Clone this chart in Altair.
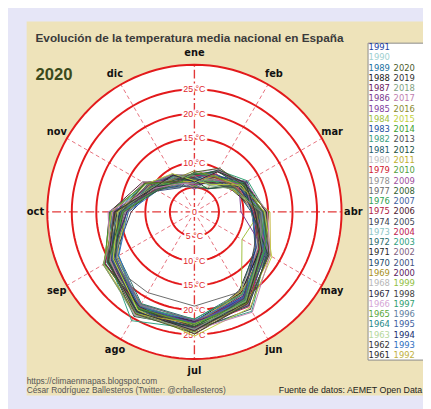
import altair as alt
import pandas as pd
import numpy as np

# ---------------- data ----------------
years = list(range(1961, 2021))
months = ["ene", "feb", "mar", "abr", "may", "jun", "jul", "ago", "sep", "oct", "nov", "dic"]

t_ene = [6.0, 6.8, 4.8, 5.9, 5.2, 7.9, 6.1, 6.4, 6.6, 6.9, 5.6, 6.2, 5.9, 7.0, 7.2, 5.4, 7.6, 6.3, 7.1, 5.8,
         5.3, 7.4, 5.9, 6.1, 4.6, 5.8, 5.5, 7.6, 6.7, 6.2, 6.0, 5.4, 6.0, 6.4, 7.4, 7.8, 7.5, 7.1, 6.3, 5.6,
         7.9, 7.3, 6.4, 7.5, 5.0, 5.6, 6.9, 7.6, 5.5, 5.8, 6.2, 6.5, 6.8, 8.0, 6.4, 8.4, 5.9, 7.4, 6.1, 8.1]
t_feb = [9.4, 7.8, 6.2, 8.5, 5.6, 10.2, 8.3, 8.9, 6.9, 8.8, 7.3, 8.6, 6.5, 8.2, 8.5, 8.1, 9.6, 8.7, 8.9, 8.6,
         7.2, 8.4, 6.7, 6.9, 8.8, 6.8, 8.0, 8.2, 8.7, 10.0, 6.6, 7.9, 7.7, 8.4, 9.7, 7.4, 9.8, 9.9, 7.6, 9.6,
         8.3, 9.5, 7.1, 8.2, 5.5, 6.9, 9.6, 9.5, 7.6, 7.3, 8.5, 5.4, 6.7, 8.3, 6.5, 8.4, 9.6, 6.2, 9.5, 10.3]
t_mar = [12.0, 9.1, 10.3, 10.5, 10.2, 10.4, 11.2, 10.0, 9.2, 9.5, 8.9, 10.8, 10.0, 10.7, 9.8, 9.6, 11.6, 10.9, 10.6, 10.3,
         12.2, 10.9, 11.1, 9.0, 9.7, 10.5, 10.6, 10.4, 11.8, 11.4, 10.6, 11.0, 10.7, 12.3, 11.2, 10.8, 12.6, 11.9, 11.0, 11.5,
         12.4, 11.6, 11.9, 10.1, 10.4, 11.7, 10.6, 10.9, 11.3, 9.4, 10.5, 11.6, 9.7, 11.4, 11.0, 9.9, 12.1, 9.3, 12.0, 11.2]
t_abr = [14.6, 13.1, 12.4, 13.0, 12.8, 12.2, 11.9, 13.2, 12.1, 11.6, 12.9, 11.8, 11.9, 12.3, 12.0, 12.4, 12.8, 11.7, 11.9, 11.8,
         13.6, 12.7, 13.1, 13.4, 13.7, 9.5, 14.4, 12.6, 11.7, 12.5, 11.9, 13.1, 12.6, 12.8, 14.2, 13.5, 14.6, 12.4, 13.2, 12.3,
         13.3, 13.6, 13.9, 12.4, 13.4, 14.7, 13.9, 13.1, 12.5, 14.2, 15.4, 11.7, 13.0, 15.1, 14.3, 12.7, 14.9, 13.6, 12.4, 14.0]
t_may = [16.5, 15.6, 15.9, 17.4, 16.2, 15.8, 15.3, 14.9, 16.4, 15.2, 14.6, 14.3, 16.5, 14.9, 15.1, 15.7, 14.8, 14.9, 15.9, 14.8,
         15.6, 16.4, 15.8, 11.2, 15.5, 16.9, 16.1, 15.4, 16.6, 16.8, 14.5, 17.3, 15.6, 15.8, 17.2, 15.9, 16.3, 15.6, 17.0, 16.8,
         16.6, 15.5, 16.9, 15.8, 17.0, 17.5, 16.4, 15.3, 17.4, 15.5, 17.9, 17.3, 14.1, 16.4, 18.2, 15.5, 17.8, 15.6, 15.9, 17.6]
t_jun = [20.3, 19.8, 19.9, 20.2, 21.0, 20.4, 19.3, 19.7, 18.6, 20.5, 18.4, 18.9, 21.1, 19.5, 19.1, 20.6, 18.8, 19.4, 20.1, 18.9,
         21.0, 20.9, 20.4, 19.2, 20.0, 20.3, 19.8, 19.0, 20.5, 21.1, 20.0, 18.8, 20.1, 20.9, 20.6, 20.7, 19.4, 21.3, 21.1, 21.4,
         22.0, 21.6, 23.4, 22.3, 22.9, 21.7, 20.5, 20.8, 21.9, 20.6, 21.4, 22.1, 20.3, 21.2, 22.6, 21.5, 23.6, 20.9, 21.3, 21.6]
t_jul = [23.0, 22.9, 23.5, 23.7, 22.8, 22.4, 23.9, 22.7, 23.4, 23.6, 23.8, 21.9, 23.3, 22.9, 22.9, 22.2, 19.2, 22.6, 22.8, 22.3,
         22.4, 23.5, 23.9, 23.2, 23.8, 22.7, 22.9, 22.3, 24.0, 23.6, 23.5, 22.8, 22.1, 24.2, 24.3, 22.8, 21.8, 23.7, 23.4, 22.4,
         22.6, 22.1, 23.8, 23.5, 24.1, 24.9, 22.9, 23.3, 23.9, 24.5, 22.8, 23.4, 24.3, 22.9, 25.3, 24.4, 24.1, 23.9, 24.2, 24.8]
t_ago = [23.2, 23.4, 22.8, 22.1, 22.0, 22.9, 22.7, 21.9, 22.1, 22.5, 22.7, 21.6, 23.2, 22.4, 22.8, 21.7, 19.0, 22.2, 22.5, 22.9,
         22.6, 22.3, 22.8, 22.6, 22.9, 22.4, 23.3, 22.5, 22.8, 23.1, 23.7, 23.0, 22.6, 22.9, 22.4, 21.9, 22.6, 23.4, 22.9, 22.8,
         23.5, 21.8, 25.6, 22.6, 22.7, 22.3, 22.2, 22.9, 24.0, 23.8, 24.0, 24.6, 23.3, 22.7, 23.1, 24.1, 24.2, 24.4, 23.5, 24.0]
t_sep = [20.5, 19.4, 19.8, 20.3, 18.4, 19.9, 19.6, 19.2, 18.1, 19.7, 19.5, 17.9, 20.4, 19.0, 18.6, 18.9, 20.5, 19.8, 19.3, 19.6,
         19.9, 19.8, 20.6, 18.8, 21.1, 19.9, 21.0, 19.5, 19.3, 20.7, 20.3, 19.1, 17.8, 18.6, 18.7, 18.3, 20.6, 20.1, 20.0, 19.9,
         19.2, 19.0, 20.1, 21.0, 19.6, 21.1, 19.4, 19.0, 19.8, 19.9, 21.3, 20.2, 20.5, 21.2, 19.1, 21.5, 19.8, 21.4, 20.3, 20.4]
t_oct = [16.4, 15.8, 14.9, 14.2, 15.3, 14.8, 15.9, 15.4, 14.7, 14.1, 14.8, 13.9, 14.4, 12.9, 14.3, 13.8, 14.9, 14.2, 14.6, 13.9,
         15.1, 14.6, 15.2, 15.6, 16.0, 15.3, 15.4, 15.2, 16.1, 14.8, 13.7, 13.4, 13.5, 15.2, 17.4, 14.9, 16.8, 15.0, 14.8, 13.8,
         17.1, 15.5, 14.6, 16.2, 15.9, 17.3, 15.0, 14.5, 16.6, 14.6, 16.9, 15.3, 16.4, 17.2, 15.6, 15.9, 17.6, 15.4, 16.2, 14.8]
t_nov = [10.5, 9.6, 11.4, 10.2, 9.3, 9.0, 9.8, 10.6, 9.4, 10.8, 8.9, 10.1, 9.2, 9.5, 9.3, 9.1, 10.9, 10.2, 10.4, 9.0,
         11.1, 10.7, 11.6, 10.9, 8.8, 9.9, 10.8, 9.7, 11.4, 9.5, 9.2, 10.6, 8.7, 11.8, 11.5, 10.3, 11.3, 9.6, 8.8, 10.4,
         8.6, 11.0, 10.3, 9.1, 9.0, 12.2, 8.9, 8.7, 11.9, 9.0, 11.7, 10.1, 9.0, 11.6, 11.4, 10.0, 9.6, 9.9, 9.7, 11.7]
t_dic = [7.7, 5.8, 6.4, 6.9, 7.9, 7.4, 6.2, 6.8, 6.5, 5.9, 6.1, 6.9, 5.7, 6.6, 6.8, 7.9, 8.6, 8.3, 7.5, 6.3,
         8.1, 7.4, 7.6, 6.8, 8.0, 6.6, 8.1, 7.0, 8.9, 6.0, 6.7, 7.6, 7.0, 7.9, 8.4, 8.0, 8.3, 6.9, 6.5, 8.6,
         5.7, 8.8, 7.3, 6.9, 6.1, 7.0, 6.3, 6.8, 7.5, 6.9, 7.2, 7.6, 7.1, 6.5, 9.0, 7.8, 6.6, 8.2, 8.7, 7.2]

year_colors = [
    "#2a2a2a", "#333333", "#b5d89c", "#1f8a8a", "#58a83a", "#d6a6d6", "#2a2a40", "#b8b8b8", "#a89020", "#1a4a6a",
    "#282828", "#2a6a6a", "#8ec6c6", "#3a4050", "#b02040", "#30a050", "#6a6a6a", "#909090", "#d02030", "#c0c0c0",
    "#205a6a", "#40a080", "#2050a0", "#a0c040", "#8040a0", "#7a3a90", "#6a2060", "#202020", "#2070a0", "#a0d0d0",
    "#2040a0", "#c0b040", "#3070c0", "#203070", "#4060a0", "#6080a0", "#30a070", "#404040", "#90c040", "#5a2060",
    "#405080", "#806080", "#30a080", "#c02050", "#404858", "#502030", "#4060a0", "#306030", "#a050a0", "#50a040",
    "#c0b030", "#205040", "#505050", "#40a030", "#c0d040", "#8a8a30", "#c080b0", "#80a080", "#303030", "#4a5a2a",
]

grid_radii = [5, 10, 15, 20, 25, 30]
labels_top = [10, 15, 20, 25]
labels_bottom = [5, 10, 15, 20, 25]
month_label_radius = 32.4

title_text = "Evolución de la temperatura media nacional en España"
year_text = "2020"
credit_url = "https://climaenmapas.blogspot.com"
credit_author = "César Rodríguez Ballesteros (Twitter: @crballesteros)"
source_text = "Fuente de datos: AEMET Open Data"

# ---------------- tables ----------------
series = [t_ene, t_feb, t_mar, t_abr, t_may, t_jun, t_jul, t_ago, t_sep, t_oct, t_nov, t_dic]

rows = []
for yi, yr in enumerate(years):
    for k in range(13):
        m = k % 12
        t = series[m][yi]
        a = np.deg2rad(m * 30)
        rows.append({"year": str(yr), "order": k, "t": t, "x": t * np.sin(a), "y": t * np.cos(a)})
lines_df = pd.DataFrame(rows)

circ_rows = []
for r in grid_radii:
    for d in range(0, 361, 3):
        a = np.deg2rad(d)
        circ_rows.append({"r": r, "d": d, "x": r * np.sin(a), "y": r * np.cos(a)})
circ_df = pd.DataFrame(circ_rows)

rmax = grid_radii[-1]
disc_x = np.linspace(-rmax, rmax, 241)
disc_df = pd.DataFrame({"x": disc_x, "y": np.sqrt(np.clip(rmax ** 2 - disc_x ** 2, 0, None)),
                        "y2": -np.sqrt(np.clip(rmax ** 2 - disc_x ** 2, 0, None))})

spoke_rows = []
for i, m in enumerate(months):
    a = np.deg2rad(i * 30)
    spoke_rows.append({"m": m, "main": i % 3 == 0, "x": 0.0, "y": 0.0,
                       "x2": rmax * np.sin(a), "y2": rmax * np.cos(a)})
spoke_df = pd.DataFrame(spoke_rows)

mlab_df = pd.DataFrame({
    "m": months,
    "x": [month_label_radius * np.sin(np.deg2rad(i * 30)) for i in range(12)],
    "y": [month_label_radius * np.cos(np.deg2rad(i * 30)) for i in range(12)],
})

tl_rows = [{"x": 0, "y": t, "txt": f"{t} °C"} for t in labels_top]
tl_rows += [{"x": 0, "y": -t, "txt": f"{t} °C"} for t in labels_bottom]
tl_rows += [{"x": 0, "y": 0, "txt": "0"}]
tl_df = pd.DataFrame(tl_rows)

leg_rows = []
for yr in years:
    if yr <= 1991:
        leg_rows.append({"year": str(yr), "col": 0, "row": 1991 - yr})
    else:
        leg_rows.append({"year": str(yr), "col": 1, "row": 2020 - yr + 2})
leg_df = pd.DataFrame(leg_rows)

# ---------------- scales ----------------
XS = alt.Scale(domain=[-30, 30], range=[40, 340], nice=False, zero=False)
YS = alt.Scale(domain=[-30, 30], range=[354, 54], nice=False, zero=False)
COLOR = alt.Scale(domain=[str(y) for y in years], range=year_colors)

def X(f="x"):
    return alt.X(f + ":Q", scale=XS, axis=None)

def Y(f="y"):
    return alt.Y(f + ":Q", scale=YS, axis=None)

one = alt.Data(values=[{}])

panel = alt.Chart(one).mark_rect(color="#eee3ba").encode(
    x=alt.value(19), x2=alt.value(430), y=alt.value(10), y2=alt.value(391))

disc = alt.Chart(disc_df).mark_area(color="white").encode(
    x=X(), y=Y(), y2="y2:Q")

spokes_minor = alt.Chart(spoke_df[~spoke_df["main"]]).mark_rule(
    color="#e5707c", strokeWidth=1, strokeDash=[4, 3]).encode(
    x=X(), y=Y(), x2="x2:Q", y2="y2:Q")
spokes_main = alt.Chart(spoke_df[spoke_df["main"]]).mark_rule(
    color="#e23838", strokeWidth=1.4, strokeDash=[9, 3, 2, 3]).encode(
    x=X(), y=Y(), x2="x2:Q", y2="y2:Q")

circles = alt.Chart(circ_df).mark_line(color="#e31a1c", strokeWidth=2).encode(
    x=X(), y=Y(), detail="r:N", order="d:Q")

tl_halo = alt.Chart(tl_df).mark_text(
    fontSize=9, font="Liberation Sans", color="white", stroke="white", strokeWidth=4).encode(
    x=X(), y=Y(), text="txt:N")
tl_text = alt.Chart(tl_df).mark_text(
    fontSize=9, font="Liberation Sans", color="#e0282c").encode(
    x=X(), y=Y(), text="txt:N")

lines = alt.Chart(lines_df).mark_line(strokeWidth=1).encode(
    x=X(), y=Y(), detail="year:N", order="order:Q",
    color=alt.Color("year:N", scale=COLOR, legend=None))

mlabels = alt.Chart(mlab_df).mark_text(
    fontSize=10, font="DejaVu Sans", fontWeight="bold", color="#111111").encode(
    x=X(), y=Y(), text="m:N")

title = alt.Chart(one).mark_text(
    text=title_text, fontSize=12, font="Liberation Sans", fontWeight="bold",
    color="#3a3a3a", align="center").encode(x=alt.value(185), y=alt.value(27))
big_year = alt.Chart(one).mark_text(
    text=year_text, fontSize=17, font="Liberation Sans", fontWeight="bold",
    color="#3b4a1c", align="left").encode(x=alt.value(28), y=alt.value(65))
cred1 = alt.Chart(one).mark_text(
    text=credit_url, fontSize=8.5, font="Liberation Sans", color="#555555", align="left").encode(
    x=alt.value(19), y=alt.value(376))
cred2 = alt.Chart(one).mark_text(
    text=credit_author, fontSize=8.5, font="Liberation Sans", color="#555555", align="left").encode(
    x=alt.value(19), y=alt.value(386))
src = alt.Chart(one).mark_text(
    text=source_text, fontSize=9, font="Liberation Sans", color="#222222", align="left").encode(
    x=alt.value(276), y=alt.value(386))

leg_box = alt.Chart(one).mark_rect(fill="white", stroke="#8a8a8a", strokeWidth=1).encode(
    x=alt.value(367), x2=alt.value(432), y=alt.value(32), y2=alt.value(355))
leg_text = alt.Chart(leg_df).mark_text(
    fontSize=9.5, font="Liberation Sans Narrow, DejaVu Sans Condensed, Liberation Sans",
    align="left", baseline="middle").encode(
    x=alt.X("col:Q", scale=alt.Scale(domain=[0, 1], range=[367.5, 393], nice=False, zero=False), axis=None),
    y=alt.Y("row:Q", scale=alt.Scale(domain=[0, 30], range=[36, 350], nice=False, zero=False), axis=None),
    text="year:N",
    color=alt.Color("year:N", scale=COLOR, legend=None))

chart = alt.layer(
    panel, disc, spokes_minor, spokes_main, circles, tl_halo, tl_text, lines,
    mlabels, title, big_year, cred1, cred2, src, leg_box, leg_text
).resolve_scale(x="independent", y="independent").properties(
    width=423, height=401, background="#e6e6f7", padding=0,
    autosize=alt.AutoSizeParams(type="none")
).configure_view(stroke=None)

chart.save("out.html", embed_options={"renderer": "svg", "actions": False})
